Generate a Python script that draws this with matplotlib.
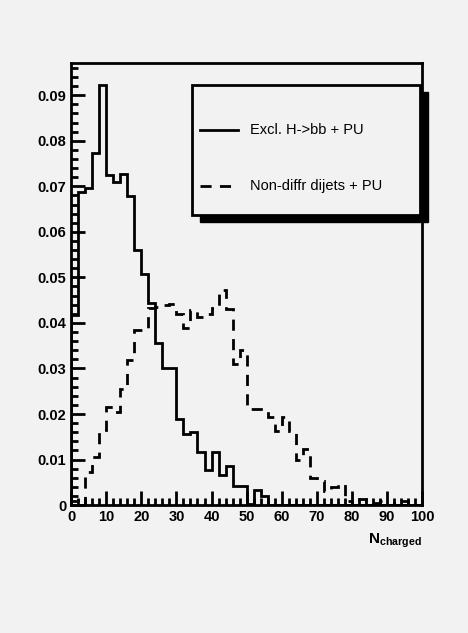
import numpy as np
import matplotlib
matplotlib.use('Agg')
import matplotlib.pyplot as plt
from matplotlib.patches import Rectangle

# --- Data (50 bins of width 2 over 0..100) ---
edges = np.arange(0, 102, 2)
excl_h = [0.0417, 0.0688, 0.0697, 0.0773, 0.0922, 0.0724, 0.0710, 0.0726, 0.0678, 0.0561,
          0.0508, 0.0443, 0.0355, 0.0300, 0.0302, 0.0190, 0.0157, 0.0160, 0.0117, 0.0077,
          0.0117, 0.0067, 0.0085, 0.0043, 0.0043, 0.0003, 0.0033, 0.0020, 0.0, 0.0,
          0.0, 0.0, 0.0, 0.0, 0.0, 0.0, 0.0, 0.0, 0.0, 0.0,
          0.0, 0.0, 0.0, 0.0, 0.0, 0.0, 0.0, 0.0, 0.0, 0.0]
nondiffr = [0.0010, 0.0, 0.0073, 0.0106, 0.0165, 0.0216, 0.0205, 0.0256, 0.0318, 0.0384,
            0.0384, 0.0432, 0.0435, 0.0439, 0.0441, 0.0420, 0.0388, 0.0428, 0.0413, 0.0420,
            0.0432, 0.0472, 0.0431, 0.0309, 0.0340, 0.0210, 0.0210, 0.0210, 0.0193, 0.0163,
            0.0193, 0.0163, 0.0100, 0.0123, 0.0060, 0.0053, 0.0030, 0.0040, 0.0047, 0.0010,
            0.0, 0.0013, 0.0010, 0.0005, 0.0010, 0.0, 0.0005, 0.0008, 0.0, 0.0]

plt.rcParams['font.family'] = ['Liberation Sans', 'DejaVu Sans']
plt.rcParams['font.weight'] = 'bold'
bg = '#f2f2f2'

fig = plt.figure(figsize=(4.68, 6.33), dpi=100, facecolor=bg)
ax = fig.add_axes([0.152, 0.202, 0.75, 0.698], facecolor=bg)

ax.stairs(excl_h, edges, color='black', lw=2, label='Excl. H->bb + PU')
ax.stairs(nondiffr, edges, color='black', lw=2, ls=(0, (4, 3)), label='Non-diffr dijets + PU')

ax.set_xlim(0, 100)
ax.set_ylim(0, 0.097)
ax.set_xticks(np.arange(0, 101, 10))
ax.set_xticks(np.arange(0, 101, 2), minor=True)
ax.set_yticks(np.arange(0, 0.095, 0.01))
ax.set_yticklabels(['0'] + [f'{v:.2f}' for v in np.arange(0.01, 0.095, 0.01)])
ax.set_yticks(np.arange(0, 0.097, 0.002), minor=True)
ax.tick_params(which='both', direction='in', labelsize=10.5, width=2, top=False, right=False)
ax.tick_params(which='major', length=10)
ax.tick_params(which='minor', length=5)
for s in ax.spines.values():
    s.set_linewidth(2)
ax.text(1.0, -0.06, r'N$_{\mathregular{charged}}$', transform=ax.transAxes,
        ha='right', va='top', fontsize=11, fontweight='bold')

# legend box with ROOT-like shadow
fig.patches.append(Rectangle((200/468, 1-222/633), 228/468, 130/633, transform=fig.transFigure,
                             facecolor='black', edgecolor='black'))
fig.patches.append(Rectangle((192/468, 1-215/633), 228/468, 130/633, transform=fig.transFigure,
                             facecolor=bg, edgecolor='black', lw=2))
fig.lines.append(plt.Line2D([200/468, 238/468], [1-130/633]*2, transform=fig.transFigure, color='black', lw=2))
fig.lines.append(plt.Line2D([200/468, 238/468], [1-186/633]*2, transform=fig.transFigure, color='black', lw=2,
                            ls=(0, (4, 3))))
fig.text(250/468, 1-130/633, 'Excl. H->bb + PU', va='center', fontsize=10.5, fontweight='normal')
fig.text(250/468, 1-186/633, 'Non-diffr dijets + PU', va='center', fontsize=10.5, fontweight='normal')

fig.savefig('out.png', dpi=100, facecolor=bg)
